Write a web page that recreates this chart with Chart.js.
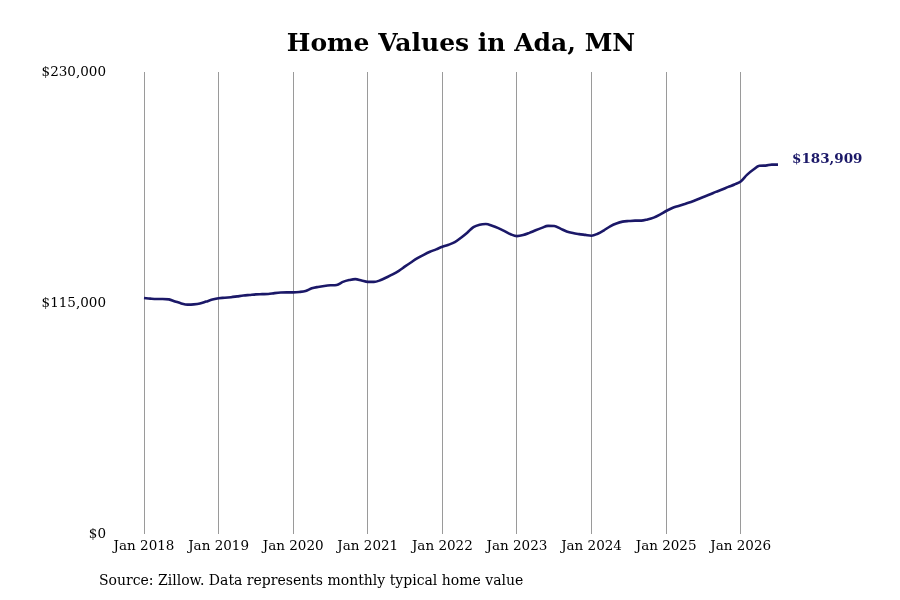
<!DOCTYPE html>
<html>
<head>
<meta charset="utf-8">
<script src="https://cdn.jsdelivr.net/npm/chart.js@4"></script>
<style>
  html, body { margin: 0; padding: 0; background: #fff; }
  #wrap { width: 900px; height: 600px; }
</style>
</head>
<body>
<div id="wrap"><canvas id="chart" width="900" height="600"></canvas></div>
<script>
// Chart text
const titleText = 'Home Values in Ada, MN';
const sourceText = 'Source: Zillow. Data represents monthly typical home value';

// Categories: monthly from Jan 2018 to Jul 2026
const monthNames = ['Jan', 'Feb', 'Mar', 'Apr', 'May', 'Jun', 'Jul', 'Aug', 'Sep', 'Oct', 'Nov', 'Dec'];
const startYear = 2018;
const monthCount = 103;

// Typical home value, one per month
const homeValues = [
    117500, 117200, 117000, 117000, 116800, 115800, 114800, 114200, 114300, 114700, 115700, 116700, // 2018
    117400, 117600, 117900, 118300, 118700, 119000, 119300, 119400, 119500, 119900, 120200, 120300, // 2019
    120300, 120500, 121000, 122300, 123000, 123500, 123800, 124000, 125500, 126400, 126900, 126200, // 2020
    125500, 125500, 126300, 127700, 129200, 131000, 133200, 135300, 137300, 139000, 140500, 141700, // 2021
    143000, 144000, 145300, 147500, 150000, 152800, 154000, 154300, 153500, 152300, 150800, 149200, // 2022
    148300, 148800, 149900, 151200, 152400, 153400, 153300, 152000, 150600, 149800, 149300, 148900, // 2023
    148500, 149500, 151200, 153200, 154600, 155500, 155800, 156000, 156000, 156600, 157500, 159000, // 2024
    160800, 162300, 163300, 164300, 165300, 166500, 167800, 169000, 170300, 171500, 172800, 174000, // 2025
    175500, 178800, 181300, 183300, 183400, 183900, 183909                                          // 2026
];

// Y axis ticks
const yTicks = [0, 115000, 230000];

const months = [];
for (let i = 0; i < monthCount; i++) {
    months.push(monthNames[i % 12] + ' ' + (startYear + Math.floor(i / 12)));
}

const lineColor = '#1b1868';
const serif = "'DejaVu Serif', serif";

const fmtMoney = v => '$' + Math.round(v).toLocaleString('en-US');

// Title, source note and end-of-line label
const textPlugin = {
    id: 'textPlugin',
    afterDraw(chart) {
        const { ctx, chartArea, scales } = chart;
        ctx.save();
        ctx.fillStyle = '#000';
        ctx.textBaseline = 'middle';
        ctx.font = `bold 25px ${serif}`;
        ctx.textAlign = 'center';
        ctx.fillText(titleText, (chartArea.left + chartArea.right) / 2, 44);

        ctx.font = `14px ${serif}`;
        ctx.textAlign = 'left';
        ctx.fillText(sourceText, 99, 581);

        const last = homeValues.length - 1;
        const x = scales.x.getPixelForValue(last);
        const y = scales.y.getPixelForValue(homeValues[last]);
        ctx.font = `bold 13.5px ${serif}`;
        ctx.fillStyle = lineColor;
        ctx.fillText(fmtMoney(homeValues[last]), x + 14, y - 5);
        ctx.restore();
    }
};

const ctx = document.getElementById('chart').getContext('2d');
const chart = new Chart(ctx, {
    type: 'line',
    data: {
        labels: months,
        datasets: [{
            label: 'Home value',
            data: homeValues,
            borderColor: lineColor,
            borderWidth: 2.6,
            pointRadius: 0,
            tension: 0.4,
            cubicInterpolationMode: 'monotone',
            fill: false
        }]
    },
    options: {
        responsive: false,
        animation: false,
        devicePixelRatio: 1,
        layout: { padding: { top: 72, right: 122, bottom: 0, left: 0 } },
        plugins: {
            legend: { display: false },
            title: { display: false },
            tooltip: { enabled: false }
        },
        scales: {
            x: {
                type: 'category',
                offset: false,
                border: { display: false },
                grid: {
                    drawTicks: false,
                    lineWidth: 1,
                    color: c => (c.index % 12 === 0 ? '#9a9a9a' : 'rgba(0,0,0,0)')
                },
                ticks: {
                    autoSkip: false,
                    maxRotation: 0,
                    padding: 4,
                    color: '#000',
                    font: { family: serif, size: 13.5 },
                    callback: (v, i) => (i % 12 === 0 ? months[i] : '')
                },
                afterFit: s => { s.height = 66; }
            },
            y: {
                min: yTicks[0],
                max: yTicks[yTicks.length - 1],
                border: { display: false },
                grid: { display: false, drawTicks: false },
                afterBuildTicks: s => { s.ticks = yTicks.map(v => ({ value: v })); },
                ticks: {
                    padding: 38,
                    color: '#000',
                    font: { family: serif, size: 13.5 },
                    callback: v => fmtMoney(v)
                },
                afterFit: s => { s.width = 144; }
            }
        }
    },
    plugins: [textPlugin]
});
</script>
</body>
</html>
